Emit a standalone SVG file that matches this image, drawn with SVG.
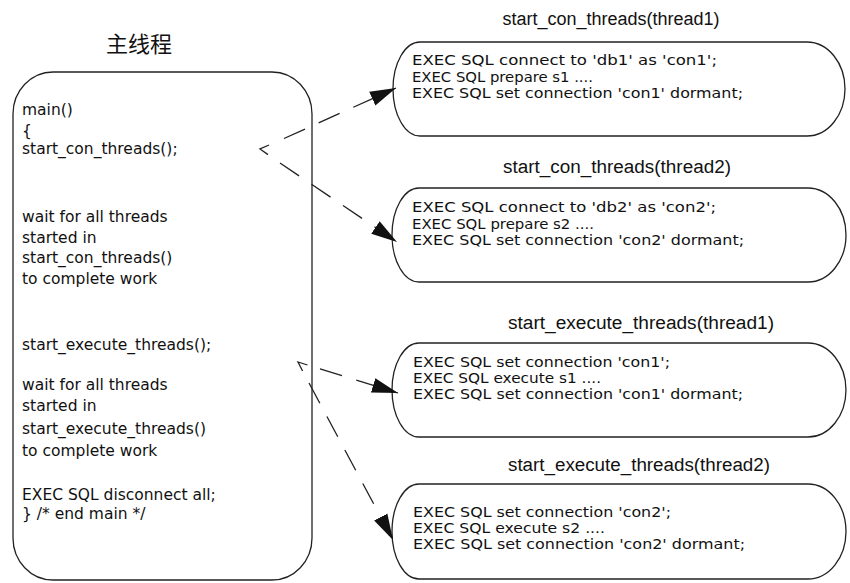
<svg xmlns="http://www.w3.org/2000/svg" width="850" height="583" viewBox="0 0 850 583">
  <defs>
    <marker id="head" markerUnits="userSpaceOnUse" markerWidth="28" markerHeight="16" refX="26" refY="8" orient="auto">
      <path d="M0,0.5 L26,8 L0,15.5 Z" fill="#111"/>
    </marker>
    <style>
      .box { fill: #fff; stroke: #222; stroke-width: 1.3; }
      .code { font-family: "DejaVu Sans", "Liberation Sans", sans-serif; font-size: 15.5px; fill: #111; }
      .sql { font-family: "DejaVu Sans", "Liberation Sans", sans-serif; font-size: 14px; fill: #111; }
      .title { font-family: "Liberation Sans", Arial, sans-serif; font-size: 18px; fill: #111; text-anchor: middle; }
      .cjk { font-family: "Noto Sans CJK SC", sans-serif; font-size: 22px; fill: #111; text-anchor: middle; }
      .dash { fill: none; stroke: #222; stroke-width: 1.3; stroke-dasharray: 23 15; }
      .tail { fill: none; stroke: #222; stroke-width: 1.3; }
    </style>
  </defs>
  <rect width="850" height="583" fill="#fff"/>

  <!-- main thread -->
  <g id="main-thread">
    <text class="cjk" x="139" y="52">主线程</text>
    <rect class="box" x="13" y="72" width="299" height="508" rx="40" ry="42"/>
    <text class="code" x="22" y="115">main()</text>
    <text class="code" x="22" y="136">{</text>
    <text class="code" x="22" y="154">start_con_threads();</text>
    <text class="code" x="22" y="222">wait for all threads</text>
    <text class="code" x="22" y="243">started in</text>
    <text class="code" x="22" y="263">start_con_threads()</text>
    <text class="code" x="22" y="284">to complete work</text>
    <text class="code" x="22" y="350">start_execute_threads();</text>
    <text class="code" x="22" y="390">wait for all threads</text>
    <text class="code" x="22" y="411">started in</text>
    <text class="code" x="22" y="434">start_execute_threads()</text>
    <text class="code" x="22" y="456">to complete work</text>
    <text class="code" x="22" y="500">EXEC SQL disconnect all;</text>
    <text class="code" x="22" y="519">} /* end main */</text>
  </g>

  <!-- connection threads -->
  <g id="con-thread1">
    <text class="title" x="611" y="25" textLength="217" lengthAdjust="spacingAndGlyphs">start_con_threads(thread1)</text>
    <path class="box" d="M420,42 H807 A38,47 0 0 1 807,136 H420 A27,47 0 0 1 420,42 Z"/>
    <text class="sql" x="412" y="65" textLength="305" lengthAdjust="spacingAndGlyphs">EXEC SQL connect to 'db1' as 'con1';</text>
    <text class="sql" x="412" y="81.5" textLength="181" lengthAdjust="spacingAndGlyphs">EXEC SQL prepare s1 ....</text>
    <text class="sql" x="412" y="97.5" textLength="331" lengthAdjust="spacingAndGlyphs">EXEC SQL set connection 'con1' dormant;</text>
  </g>
  <g id="con-thread2">
    <text class="title" x="617" y="173" textLength="228" lengthAdjust="spacingAndGlyphs">start_con_threads(thread2)</text>
    <path class="box" d="M419,188 H808 A38,47 0 0 1 808,282 H419 A27,47 0 0 1 419,188 Z"/>
    <text class="sql" x="412" y="212" textLength="304" lengthAdjust="spacingAndGlyphs">EXEC SQL connect to 'db2' as 'con2';</text>
    <text class="sql" x="412" y="228.5" textLength="182" lengthAdjust="spacingAndGlyphs">EXEC SQL prepare s2 ....</text>
    <text class="sql" x="412" y="244.5" textLength="332" lengthAdjust="spacingAndGlyphs">EXEC SQL set connection 'con2' dormant;</text>
  </g>

  <!-- execute threads -->
  <g id="exec-thread1">
    <text class="title" x="641" y="329" textLength="266" lengthAdjust="spacingAndGlyphs">start_execute_threads(thread1)</text>
    <path class="box" d="M419,343 H808 A38,47 0 0 1 808,437 H419 A27,47 0 0 1 419,343 Z"/>
    <text class="sql" x="413" y="367" textLength="257" lengthAdjust="spacingAndGlyphs">EXEC SQL set connection 'con1';</text>
    <text class="sql" x="413" y="383" textLength="188" lengthAdjust="spacingAndGlyphs">EXEC SQL execute s1 ....</text>
    <text class="sql" x="413" y="399" textLength="330" lengthAdjust="spacingAndGlyphs">EXEC SQL set connection 'con1' dormant;</text>
  </g>
  <g id="exec-thread2">
    <text class="title" x="639" y="471" textLength="262" lengthAdjust="spacingAndGlyphs">start_execute_threads(thread2)</text>
    <path class="box" d="M419,484 H808 A38,47.5 0 0 1 808,579 H419 A27,47.5 0 0 1 419,484 Z"/>
    <text class="sql" x="413" y="517" textLength="258" lengthAdjust="spacingAndGlyphs">EXEC SQL set connection 'con2';</text>
    <text class="sql" x="413" y="533" textLength="192" lengthAdjust="spacingAndGlyphs">EXEC SQL execute s2 ....</text>
    <text class="sql" x="413" y="549" textLength="332" lengthAdjust="spacingAndGlyphs">EXEC SQL set connection 'con2' dormant;</text>
  </g>

  <!-- connectors -->
  <g id="connectors">
    <path class="tail" d="M269,145 L260,149 L268,154.6"/>
    <line class="dash" x1="284" y1="138.5" x2="396" y2="88" marker-end="url(#head)"/>
    <line class="dash" x1="280" y1="163" x2="397" y2="242" marker-end="url(#head)"/>
    <path class="tail" d="M307.5,365 L298,362 L302.6,371"/>
    <line class="dash" x1="320" y1="368.8" x2="398" y2="393" marker-end="url(#head)"/>
    <line class="dash" x1="309" y1="383" x2="393" y2="540" marker-end="url(#head)"/>
  </g>
</svg>
